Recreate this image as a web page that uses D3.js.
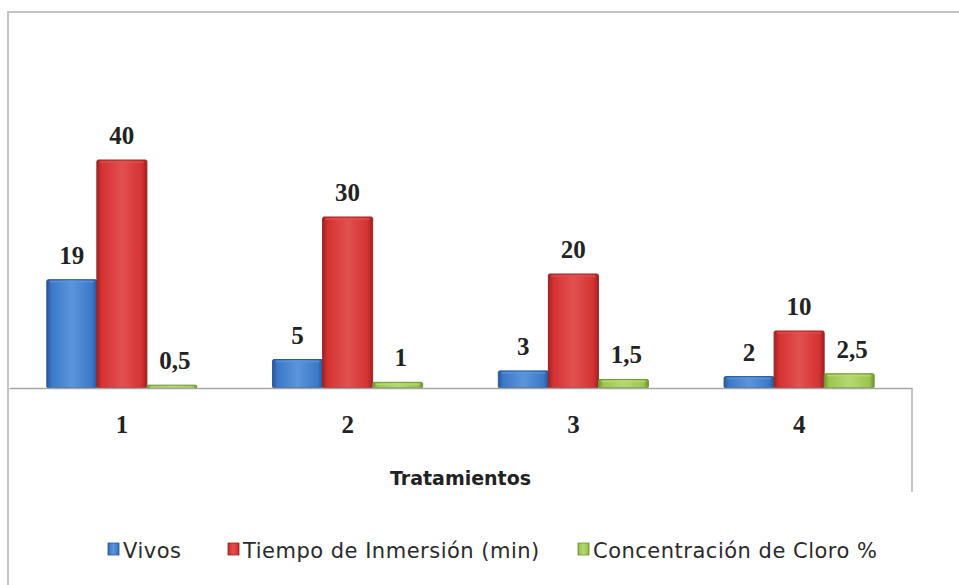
<!DOCTYPE html>
<html>
<head>
<meta charset="utf-8">
<script src="https://cdn.jsdelivr.net/npm/d3@7/dist/d3.min.js"></script>
<style>
  html, body { margin: 0; padding: 0; background: #ffffff; }
  svg { display: block; }
</style>
</head>
<body>
<svg id="chart" width="959" height="585"></svg>
<script>
const categories = ["1", "2", "3", "4"];
const seriesNames = ["Vivos", "Tiempo de Inmersión (min)", "Concentración de Cloro %"];
const vivos = [19, 5, 3, 2];
const tiempo = [40, 30, 20, 10];
const cloro = [0.5, 1, 1.5, 2.5];
const xTitle = "Tratamientos";

const seriesValues = [vivos, tiempo, cloro];
const colors = [
  { base: "#3b78c8", light: "#5b95dc", dark: "#2a5799" },
  { base: "#d43232", light: "#e25050", dark: "#9e2222" },
  { base: "#9cc54e", light: "#b6d872", dark: "#6f9432" }
];

const svg = d3.select("#chart");
const W = 959, H = 585;

const defs = svg.append("defs");
colors.forEach((c, i) => {
  const g = defs.append("linearGradient").attr("id", "grad" + i)
    .attr("x1", "0%").attr("x2", "100%").attr("y1", "0%").attr("y2", "0%");
  g.append("stop").attr("offset", "0%").attr("stop-color", c.dark);
  g.append("stop").attr("offset", "10%").attr("stop-color", c.base);
  g.append("stop").attr("offset", "50%").attr("stop-color", c.light);
  g.append("stop").attr("offset", "90%").attr("stop-color", c.base);
  g.append("stop").attr("offset", "100%").attr("stop-color", c.dark);
});

svg.append("path")
  .attr("d", `M8,${H} L8,12 L${W},12`)
  .attr("fill", "none").attr("stroke", "#c4c4c4").attr("stroke-width", 2);

const plotLeft = 9, plotRight = 912, baseY = 388;

const x = d3.scaleBand().domain(categories).range([plotLeft, plotRight])
  .paddingInner(0.335).paddingOuter(0.1675);
const xs = d3.scaleBand().domain(d3.range(seriesNames.length)).range([0, x.bandwidth()]);
const y = d3.scaleLinear().domain([0, 40]).range([baseY, 160]);

const groups = svg.append("g").selectAll("g")
  .data(categories).join("g")
  .attr("transform", d => `translate(${x(d)},0)`);

const cells = (d, ci) => seriesValues.map((vals, si) => ({ si, v: vals[ci] }));

groups.selectAll("rect")
  .data(cells)
  .join("rect")
  .attr("x", d => xs(d.si))
  .attr("y", d => y(d.v))
  .attr("width", xs.bandwidth())
  .attr("height", d => y(0) - y(d.v))
  .attr("rx", 1.5)
  .attr("fill", d => `url(#grad${d.si})`)
  .attr("stroke", d => colors[d.si].dark)
  .attr("stroke-width", 1);

groups.selectAll("line.hl")
  .data(cells)
  .join("line").attr("class", "hl")
  .attr("x1", d => xs(d.si) + 3)
  .attr("x2", d => xs(d.si) + xs.bandwidth() - 3)
  .attr("y1", d => y(d.v) + 2)
  .attr("y2", d => y(d.v) + 2)
  .attr("stroke", d => colors[d.si].light)
  .attr("stroke-opacity", 0.8)
  .attr("stroke-width", 1.5);

const fmt = v => String(v).replace(".", ",");
const serif = "'Liberation Serif', 'DejaVu Serif', serif";
groups.selectAll("text")
  .data(cells)
  .join("text")
  .attr("x", d => xs(d.si) + xs.bandwidth() / 2 + (d.si === 2 ? 3 : 0))
  .attr("y", d => y(d.v) - 16)
  .attr("text-anchor", "middle")
  .attr("font-family", serif)
  .attr("font-weight", "bold")
  .attr("font-size", 25)
  .attr("fill", "#222")
  .text(d => fmt(d.v));

const axis = svg.append("g").attr("transform", `translate(0,${baseY})`)
  .call(d3.axisBottom(x).tickSize(0).tickPadding(27));
axis.select(".domain").attr("stroke", "#a6a6a6").attr("stroke-width", 1.5);
axis.selectAll(".tick text")
  .attr("font-family", serif)
  .attr("font-weight", "bold")
  .attr("font-size", 25)
  .attr("fill", "#222");

svg.append("line")
  .attr("x1", plotRight).attr("x2", plotRight)
  .attr("y1", baseY).attr("y2", 492)
  .attr("stroke", "#b0b0b0").attr("stroke-width", 1.5);

const sans = "'DejaVu Sans', Lato, sans-serif";
svg.append("text")
  .attr("x", (plotLeft + plotRight) / 2)
  .attr("y", 485)
  .attr("text-anchor", "middle")
  .attr("font-family", sans)
  .attr("font-weight", "bold")
  .attr("font-size", 19)
  .attr("fill", "#222")
  .text(xTitle);

const legendX = [108, 228, 578];
const legend = svg.append("g").selectAll("g")
  .data(seriesNames).join("g")
  .attr("transform", (d, i) => `translate(${legendX[i]},549)`);
legend.append("rect")
  .attr("x", 0).attr("y", -6).attr("width", 11).attr("height", 12)
  .attr("fill", (d, i) => `url(#grad${i})`)
  .attr("stroke", (d, i) => colors[i].dark).attr("stroke-width", 0.8);
legend.append("text")
  .attr("x", 15).attr("y", 9)
  .attr("font-family", sans)
  .attr("font-size", 21)
  .attr("letter-spacing", 0.5)
  .attr("fill", "#2a2a2a")
  .text(d => d);
</script>
</body>
</html>
